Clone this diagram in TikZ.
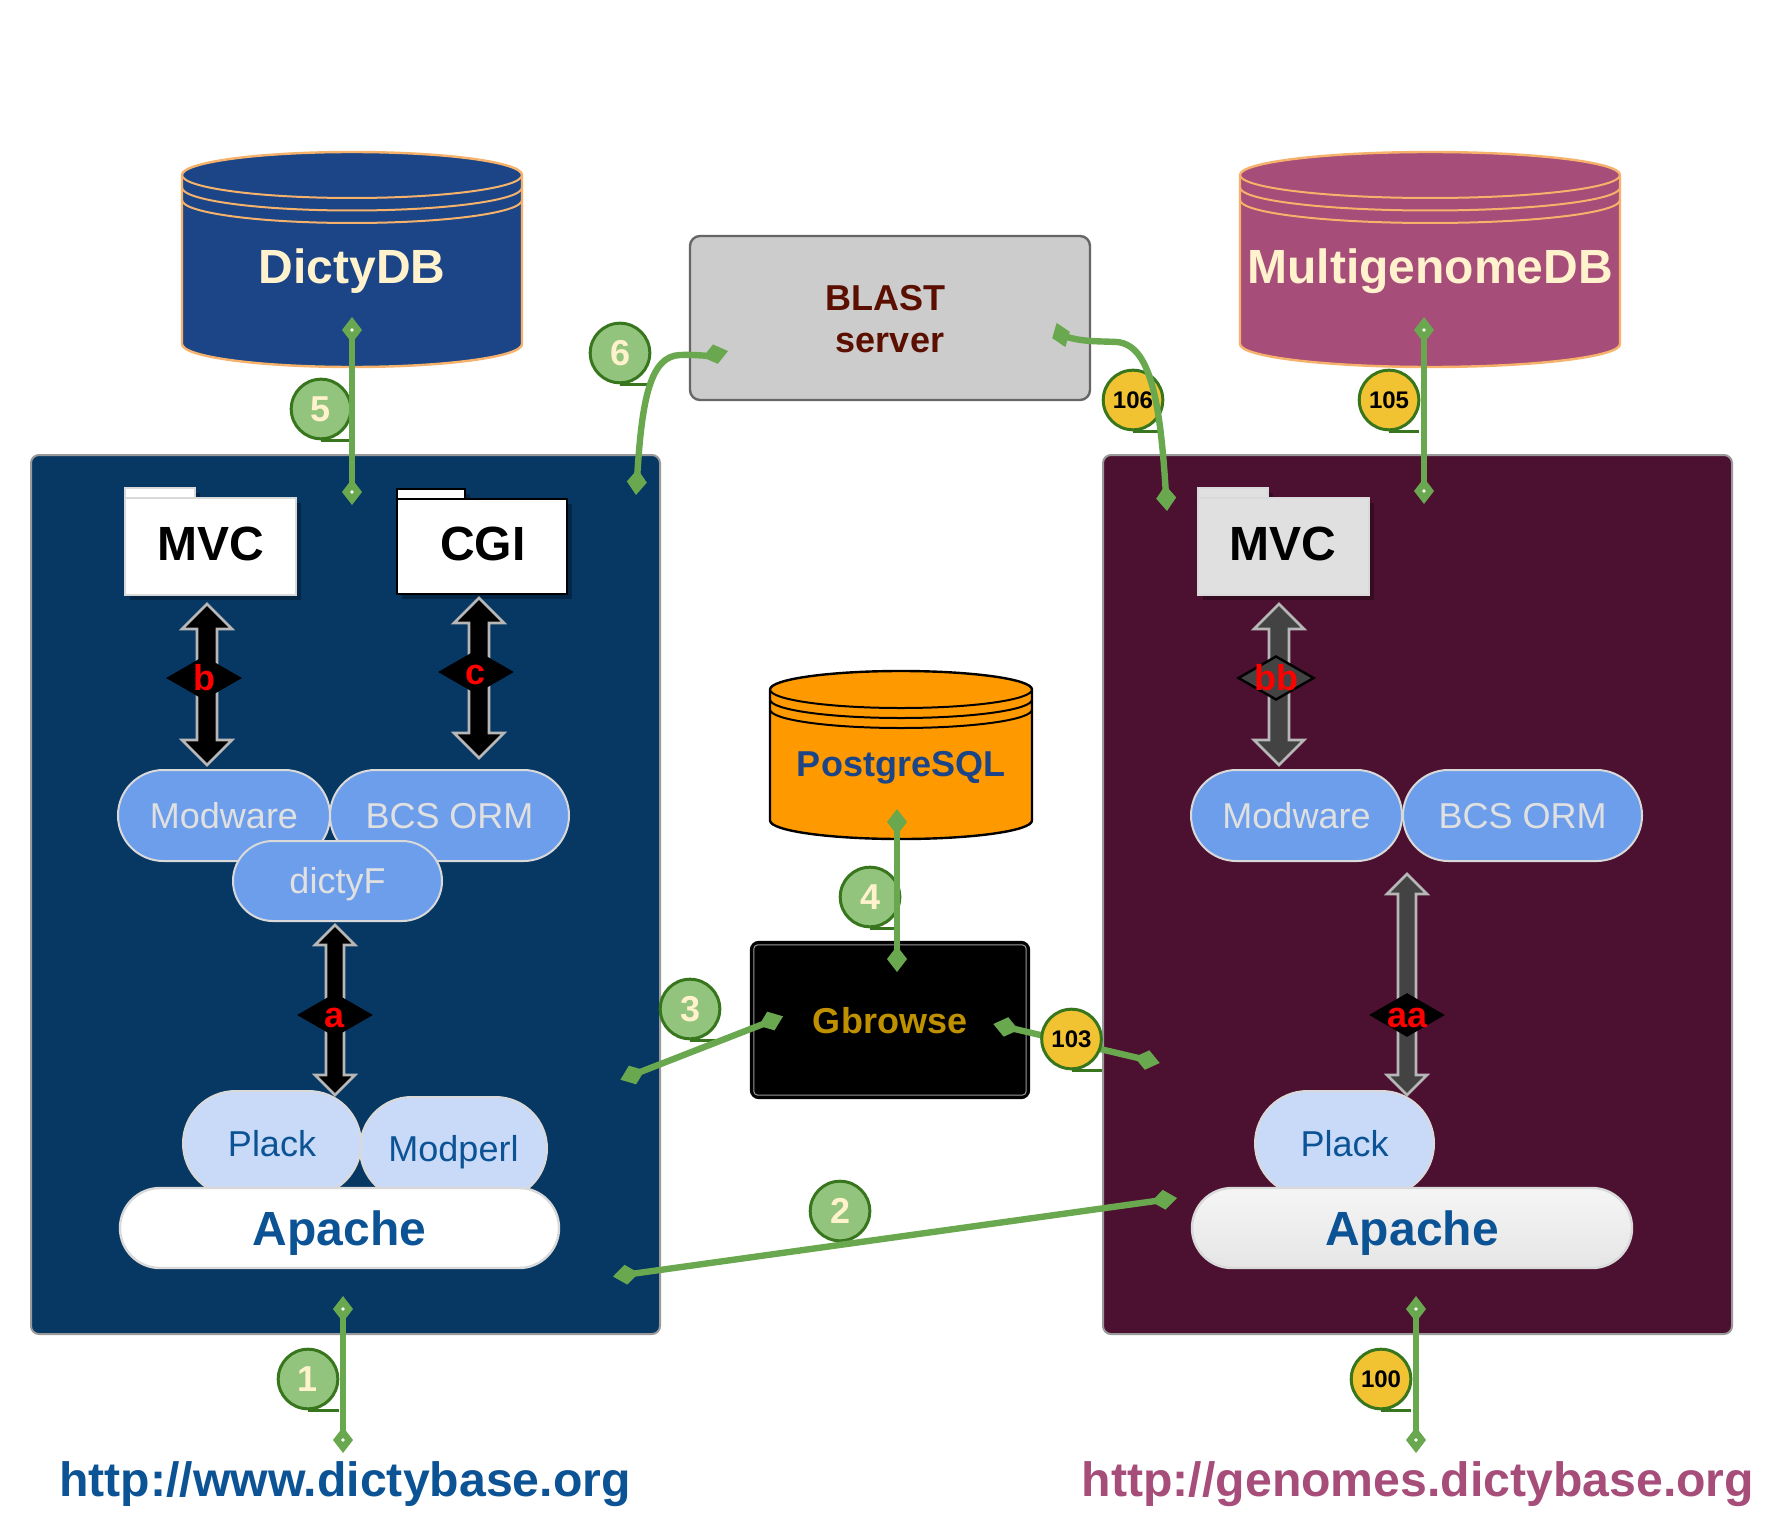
\documentclass[tikz,border=0pt]{standalone}
\usepackage{fontspec}
\setmainfont{Liberation Sans}
\usetikzlibrary{arrows.meta,calc,shapes.geometric}
\definecolor{panelA}{HTML}{073763}
\definecolor{panelB}{HTML}{4C1130}
\definecolor{panelEdge}{HTML}{999999}
\definecolor{dbBlue}{HTML}{1C4587}
\definecolor{dbPink}{HTML}{A64D79}
\definecolor{dbOrange}{HTML}{FF9900}
\definecolor{dbEdge}{HTML}{F6B26B}
\definecolor{cream}{HTML}{FFF2CC}
\definecolor{linkGreen}{HTML}{6AA84F}
\definecolor{darkGreen}{HTML}{38761D}
\definecolor{lightGreen}{HTML}{93C47D}
\definecolor{gold}{HTML}{F1C232}
\definecolor{pillBlue}{HTML}{6D9EEB}
\definecolor{pillPale}{HTML}{C9DAF8}
\definecolor{textBlue}{HTML}{0B5394}
\definecolor{pillEdge}{HTML}{D9D9D9}
\definecolor{pillText}{HTML}{E0E0E0}
\definecolor{arrowEdge}{HTML}{B7B7B7}
\definecolor{arrowGrey}{HTML}{434343}
\definecolor{blastFill}{HTML}{CCCCCC}
\definecolor{blastEdge}{HTML}{666666}
\definecolor{blastText}{HTML}{5B0F00}
\definecolor{gbText}{HTML}{BF9000}
\tikzset{
  big/.style={font=\fontsize{24}{26}\selectfont\bfseries,text height=17pt,text depth=0pt,inner sep=0pt},
  med/.style={font=\fontsize{18}{20}\selectfont,text height=12.9pt,text depth=0pt,inner sep=0pt},
  medb/.style={font=\fontsize{18}{20}\selectfont\bfseries,text height=12.9pt,text depth=0pt,inner sep=0pt},
  small/.style={font=\fontsize{12}{14}\selectfont\bfseries,text height=8.6pt,text depth=0pt,inner sep=0pt},
  link/.style={draw=linkGreen,line width=3.2pt,{Diamond[length=13pt,width=10pt]}-{Diamond[length=13pt,width=10pt]}},
  halflink/.style={draw=linkGreen,line width=3.2pt,-{Diamond[length=13pt,width=10pt]}},
  endmark/.style={diamond,fill=linkGreen,inner sep=0pt,minimum width=13pt,minimum height=9.5pt},
  tickline/.style={draw=darkGreen,line width=1.5pt},
  calloutG/.style={circle,draw=darkGreen,line width=1.5pt,fill=lightGreen,minimum size=29.8pt,inner sep=0pt,text=cream,medb},
  calloutY/.style={circle,draw=darkGreen,line width=1.5pt,fill=gold,minimum size=29.8pt,inner sep=0pt,text=black,small},
  pilltop/.style={draw=pillEdge,line width=1pt,fill=pillBlue,text=pillText,med},
  pillpale/.style={draw=pillEdge,line width=1pt,fill=pillPale,text=textBlue,med},
  pillapache/.style={draw=pillEdge,line width=1.2pt,fill=white,text=textBlue,big},
  dotmark/.style={circle,fill=white,inner sep=0pt,minimum size=1.8pt},
  jun/.style={diamond,inner sep=0pt,minimum width=38pt,minimum height=22pt},
  junlabel/.style={text=red,medb},
  panel/.style={rectangle,draw=panelEdge,line width=1pt,rounded corners=4pt,inner sep=0pt},
  urltext/.style={font=\fontsize{24.1}{28}\selectfont\bfseries,inner sep=0pt,text height=17pt,text depth=0pt},
}
% rectangle-like node from its extents
\newcommand{\boxnode}[7]{% style, name, x1,x2,y1,y2, text
  \pgfmathsetlengthmacro\bw{(#4-#3)*0.5}
  \pgfmathsetlengthmacro\bh{(#6-#5)*0.5}
  \node[#1,minimum width=\bw,minimum height=\bh] (#2) at ({(#3+#4)/2},{(#5+#6)/2}) {#7};}
\newcommand{\pillnode}[7]{% style, name, x1,x2,y1,y2, text
  \pgfmathsetlengthmacro\bw{(#4-#3-2)*0.5}
  \pgfmathsetlengthmacro\bh{(#6-#5-2)*0.5}
  \pgfmathsetlengthmacro\br{(#6-#5-2)*0.2499}
  \node[rectangle,#1,rounded corners=\br,minimum width=\bw,minimum height=\bh] (#2) at ({(#3+#4)/2},{(#5+#6)/2}) {#7};}
\newcommand{\dbcyl}[8]{% x1,x2,ytop,ybot,ry,gap,fill,draw
  \pgfmathsetmacro\rx{(#2-#1)/2}
  \pgfmathsetmacro\ya{#3+#5}
  \pgfmathsetmacro\yb{#4-#5}
  \pgfmathsetmacro\yc{\ya+#6}
  \pgfmathsetmacro\yd{\ya+2*#6}
  \draw[fill=#7,draw=#8,line width=1.2pt] (#1,\ya) arc[start angle=180,end angle=360,x radius=\rx,y radius=#5]
     -- (#2,\yb) arc[start angle=0,end angle=180,x radius=\rx,y radius=#5] -- cycle;
  \draw[draw=#8,line width=1pt] (#1,\ya) arc[start angle=180,end angle=0,x radius=\rx,y radius=#5];
  \draw[draw=#8,line width=1pt] (#1,\yc) arc[start angle=180,end angle=0,x radius=\rx,y radius=#5];
  \draw[draw=#8,line width=1pt] (#1,\yd) arc[start angle=180,end angle=0,x radius=\rx,y radius=#5];}
\newcommand{\folderbox}[9]{% x1,x2,tabright,ytab,ybody,ybot,fill,edge,lw
  \fill[black,opacity=.28] (#1+5,#5+5) rectangle (#2+5,#6+5);
  \fill[black,opacity=.28] (#1+5,#4+5) rectangle (#3+5,#5+5);
  \draw[fill=#7,draw=#8,line width=#9] (#1,#4) rectangle (#3,#5);
  \draw[fill=#7,draw=#8,line width=#9] (#1,#5) rectangle (#2,#6);}
% double arrow between two named coordinates: top, bottom, head half-width, head length, shaft half-width, fill
\newcommand{\bigarrow}[6]{%
  \draw[fill=#6,draw=arrowEdge,line width=1.3pt,miter limit=10]
    (#1) -- ($(#1)+(#3,#4)$) -- ($(#1)+(#5,#4)$) -- ($(#2)+(#5,-#4)$) -- ($(#2)+(#3,-#4)$)
    -- (#2) -- ($(#2)+(-#3,-#4)$) -- ($(#2)+(-#5,-#4)$) -- ($(#1)+(-#5,#4)$) -- ($(#1)+(-#3,#4)$) -- cycle;}
\begin{document}
\begin{tikzpicture}[x=0.5pt,y=-0.5pt]
\useasboundingbox (0,0) rectangle (1780,1524);
\fill[white] (0,0) rectangle (1780,1524);

% panels
\boxnode{panel,fill=panelA}{leftpanel}{31}{660}{455}{1334}{}
\boxnode{panel,fill=panelB}{rightpanel}{1103}{1732}{455}{1334}{}

% databases
\dbcyl{182}{522}{152}{367}{23}{12.5}{dbBlue}{dbEdge}
\node[big,text=cream] (dictydb) at (352,267) {DictyDB};
\dbcyl{1240}{1620}{152}{367}{23}{12.5}{dbPink}{dbEdge}
\node[big,text=cream] (multidb) at (1430,267) {MultigenomeDB};
\dbcyl{770}{1032}{671}{839}{18.5}{10}{dbOrange}{black}
\node[medb,text=dbBlue] (pgsql) at (901,764) {PostgreSQL};

% BLAST
\boxnode{rectangle,rounded corners=5pt,fill=blastFill,draw=blastEdge,line width=1.2pt}{blast}{690}{1090}{236}{400}{}
\node[medb,text=blastText] (blastA) at (885,298) {BLAST};
\node[medb,text=blastText] (blastB) at (890,339.5) {server};

% Gbrowse
\boxnode{rectangle,rounded corners=4pt,fill=black,draw=black,line width=1.2pt}{gb}{751}{1029}{942}{1098}{}
\draw[panelEdge,line width=.5pt,rounded corners=2pt] ($(gb.north west)+(4,4)$) rectangle ($(gb.south east)+(-4,-4)$);
\node[medb,text=gbText] (gbt) at (890,1021) {Gbrowse};

% folders
\folderbox{125}{296}{195}{488}{498}{595}{white}{pillEdge}{1.2pt}
\node[big,text=black] (mvcL) at (211,543) {MVC};
\folderbox{397}{567}{465}{489}{499}{594}{white}{black}{1.2pt}
\node[big,text=black] (cgi) at (483,543) {CGI};
\folderbox{1198}{1369}{1268}{488}{498}{595}{pillText}{pillEdge}{1.2pt}
\node[big,text=black] (mvcR) at (1283,543) {MVC};

% left middleware
\pillnode{pilltop}{modL}{117}{331}{769}{862}{Modware}
\pillnode{pilltop}{bcsL}{329}{570}{769}{862}{BCS ORM}
\pillnode{pilltop}{dictyF}{232}{443}{840}{922}{dictyF}
\pillnode{pillpale}{modperl}{359}{548}{1096}{1201}{Modperl}
\pillnode{pillpale}{plackL}{182}{362}{1090}{1197}{Plack}
\pillnode{pillapache}{apacheL}{119}{560}{1187}{1269}{Apache}

% right middleware
\pillnode{pilltop}{modR}{1190}{1403}{769}{862}{Modware}
\pillnode{pilltop}{bcsR}{1402}{1643}{769}{862}{BCS ORM}
\pillnode{pillpale}{plackR}{1254}{1435}{1090}{1197}{Plack}
\pillnode{pillapache,top color=white!96!black,bottom color=white!90!black}{apacheR}{1191}{1633}{1187}{1269}{Apache}

% double arrows
\coordinate (bT) at (207,604); \coordinate (bB) at (207,765);
\coordinate (cT) at (479,598); \coordinate (cB) at (479,758);
\coordinate (aT) at (335,925); \coordinate (aB) at (335,1095);
\coordinate (bbT) at (1279,604); \coordinate (bbB) at (1279,765);
\coordinate (aaT) at (1407,874); \coordinate (aaB) at (1407,1095);
\bigarrow{bT}{bB}{25}{25}{10}{black}
\bigarrow{cT}{cB}{25}{25}{10}{black}
\bigarrow{aT}{aB}{20}{20}{9}{black}
\bigarrow{bbT}{bbB}{25}{25}{10}{arrowGrey}
\bigarrow{aaT}{aaB}{20}{20}{9}{arrowGrey}

\node[jun,fill=black] (jb) at (204,678) {};
\node[junlabel] (jbt) at (jb) {b};
\node[jun,fill=black] (jc) at (476,672) {};
\node[junlabel] (jct) at (jc) {c};
\node[jun,fill=black] (ja) at (335,1015) {};
\node[junlabel] (jat) at (ja) {a};
\node[jun,fill=arrowGrey,draw=black,line width=1.2pt] (jbb) at (1276,678) {};
\node[junlabel] (jbbt) at (jbb) {bb};
\node[jun,fill=black] (jaa) at (1407,1015) {};
\node[junlabel] (jaat) at (jaa) {aa};

% connector end points
\coordinate (e1a) at (343,1296); \coordinate (e1b) at (343,1453);
\coordinate (e100a) at (1416,1296); \coordinate (e100b) at (1416,1453);
\coordinate (e5a) at (352,317); \coordinate (e5b) at (352,505);
\coordinate (e105a) at (1424,317); \coordinate (e105b) at (1424,504);
\coordinate (e4a) at (897,809); \coordinate (e4b) at (897,972);
\coordinate (e3a) at (620.4,1079.7); \coordinate (e3b) at (783,1016.3);
\coordinate (e103a) at (993.3,1024); \coordinate (e103b) at (1159.7,1063);
\coordinate (e2a) at (613,1276.5); \coordinate (e2b) at (1177,1198);
\coordinate (e6a) at (636,495); \coordinate (e6b) at (728,351);
\node[endmark,rotate=-70] (e106a) at (1061,335) {};
\coordinate (e106b) at (1167,511);

% connector under its callout
\draw[link] (e103a) -- (e103b);

% callouts
\node[calloutG] (n1) at (308,1379) {1};
\draw[tickline] (n1.south) -- ++(31,0);
\node[calloutG] (n2) at (840,1211) {2};
\draw[tickline] (n2.south) -- ++(30,0);
\node[calloutG] (n3) at (690,1009) {3};
\draw[tickline] (n3.south) -- ++(30,0);
\node[calloutG] (n4) at (870,897) {4};
\draw[tickline] (n4.south) -- ++(30,0);
\node[calloutG] (n5) at (321,409) {5};
\draw[tickline] (n5.south) -- ++(31,0);
\node[calloutG] (n6) at (620,353) {6};
\draw[tickline] (n6.south) -- ++(30,0);
\node[calloutY] (n100) at (1381,1379) {100};
\draw[tickline] (n100.south) -- ++(30,0);
\node[calloutY] (n103) at (1071.5,1039) {103};
\draw[tickline] (n103.south) -- ++(30,0);
\node[calloutY] (n105) at (1389,400) {105};
\draw[tickline] (n105.south) -- ++(30,0);
\node[calloutY] (n106) at (1133,400) {106};
\draw[tickline] (n106.south) -- ++(30,0);

% connectors
\draw[link] (e1a) -- (e1b);
\draw[link] (e100a) -- (e100b);
\draw[link] (e5a) -- (e5b);
\draw[link] (e105a) -- (e105b);
\draw[link] (e4a) -- (e4b);
\draw[link] (e3a) -- (e3b);
\draw[link] (e2a) -- (e2b);
\draw[link] (e6a) .. controls (642,400) and (650,356) .. (680,355) .. controls (695,354.5) and (708,356) .. (e6b);
\draw[halflink] (e106a.center) .. controls (1080,342) and (1095,341) .. (1117,342) .. controls (1150,345) and (1160,400) .. (e106b);

% dots inside the end diamonds
\node[dotmark] (d1) at (343,1309) {};
\node[dotmark] (d2) at (343,1440) {};
\node[dotmark] (d3) at (1416,1309) {};
\node[dotmark] (d4) at (1416,1440) {};
\node[dotmark] (d5) at (352,330) {};
\node[dotmark] (d6) at (352,492) {};
\node[dotmark] (d7) at (1424,330) {};
\node[dotmark] (d8) at (1424,491) {};

% URLs
\node[urltext,text=textBlue] (urlL) at (345,1479) {http://www.dictybase.org};
\node[urltext,text=dbPink] (urlR) at (1418,1479) {http://genomes.dictybase.org};
\end{tikzpicture}
\end{document}
